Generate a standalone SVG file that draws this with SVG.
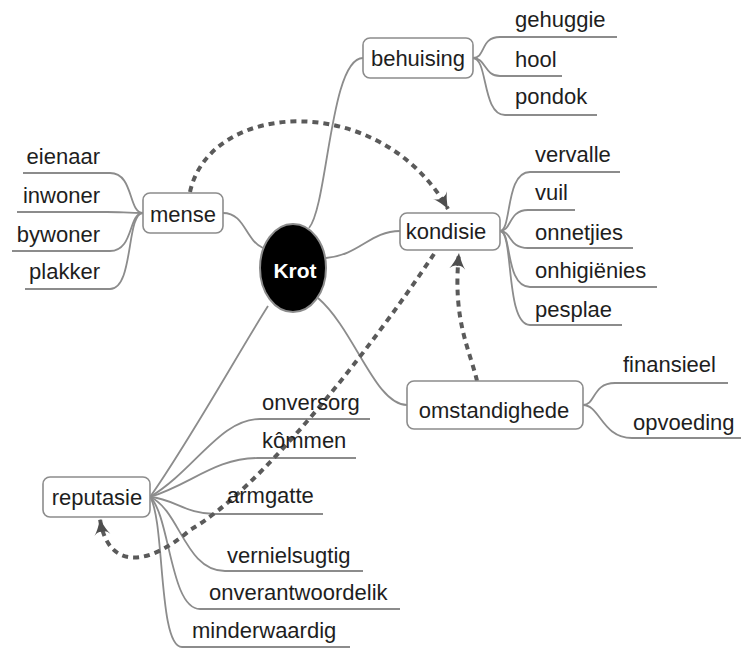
<svg xmlns="http://www.w3.org/2000/svg" width="741" height="648" viewBox="0 0 741 648">
  <style>
    .box { fill: #ffffff; stroke: #8c8c8c; stroke-width: 1.6; }
    .lbl { font-family: "Liberation Sans", Arial, sans-serif; font-size: 22px; fill: #1e1e1e; }
    .mid { text-anchor: middle; }
    .end { text-anchor: end; }
    .branch { fill: none; stroke: #8c8c8c; stroke-width: 1.8; }
    .rel { fill: none; stroke: #5a5a5a; stroke-width: 4; stroke-dasharray: 6 5; }
  </style>
  <defs>
    <marker id="relhead" markerUnits="userSpaceOnUse" viewBox="0 0 18 18" refX="17" refY="9" markerWidth="18" markerHeight="18" orient="auto">
      <path d="M1,1 Q6,5 17,9 Q6,13 1,17 Q5,13 4,9 Q5,5 1,1 Z" fill="#4e4e4e"/>
    </marker>
  </defs>

  <!-- branch lines: centre to main topics, topics to leaves -->
  <g id="connectors">
    <path class="branch" d="M309,228 C328,205 330,58 363,58"/>
    <path class="branch" d="M223,213 C245,213 245,240 263,248"/>
    <path class="branch" d="M326,258 C360,255 370,231 400,231"/>
    <path class="branch" d="M318,298 C355,330 375,405 407,405"/>
    <path class="branch" d="M268,306 C240,350 190,440 150,497"/>

    <!-- behuising leaves -->
    <path class="branch" d="M473,58 C486,58 480,37 500,37 L617,37"/>
    <path class="branch" d="M473,58 C486,58 484,76 500,76 L562,76"/>
    <path class="branch" d="M473,58 C488,58 482,115 505,115 L597,115"/>

    <!-- mense leaves -->
    <path class="branch" d="M143,213 C128,213 134,173 110,173 L23,173"/>
    <path class="branch" d="M143,213 C128,213 120,212 107,212 L17,212"/>
    <path class="branch" d="M143,213 C128,213 134,251 110,251 L12,251"/>
    <path class="branch" d="M143,213 C126,213 134,289 110,289 L25,289"/>

    <!-- kondisie leaves -->
    <path class="branch" d="M500,231 C512,231 505,172 530,172 L620,172"/>
    <path class="branch" d="M500,231 C512,231 508,210 528,210 L575,210"/>
    <path class="branch" d="M500,231 C512,231 508,248 528,248 L633,248"/>
    <path class="branch" d="M500,231 C512,231 505,287 530,287 L657,287"/>
    <path class="branch" d="M500,231 C514,231 505,325 530,325 L622,325"/>

    <!-- omstandighede leaves -->
    <path class="branch" d="M583,405 C596,405 592,383 615,383 L728,383"/>
    <path class="branch" d="M583,405 C600,405 602,438 632,438 L741,438"/>

    <!-- reputasie leaves -->
    <path class="branch" d="M150,497 C195,470 220,419 260,419 L370,419"/>
    <path class="branch" d="M150,497 C190,485 215,458 258,458 L356,458"/>
    <path class="branch" d="M150,497 C175,499 185,514 215,514 L323,514"/>
    <path class="branch" d="M150,497 C180,510 185,571 225,571 L363,571"/>
    <path class="branch" d="M150,497 C170,515 170,609 200,609 L400,609"/>
    <path class="branch" d="M150,497 C165,520 158,647 182,647 L350,647"/>

    <!-- dashed relationship arrows -->
    <path class="rel" d="M190,192 C210,100 380,90 448,209" marker-end="url(#relhead)"/>
    <path class="rel" d="M477,381 C470,350 452,320 459,253" marker-end="url(#relhead)"/>
    <path class="rel" d="M434,254 C370,350 260,490 190,530 C150,565 108,572 100,519" marker-end="url(#relhead)"/>
  </g>

  <g id="krot">
    <ellipse cx="293" cy="268" rx="33" ry="44" fill="#000000" stroke="#8c8c8c" stroke-width="2"/>
    <text x="295" y="278" class="lbl mid" style="font-weight:bold; font-size:21px; fill:#ffffff">Krot</text>
  </g>

  <g id="behuising">
    <rect class="box" x="363" y="38" width="110" height="40" rx="7"/>
    <text x="418" y="66" class="lbl mid">behuising</text>
  </g>
  <g id="gehuggie"><text x="515" y="27" class="lbl">gehuggie</text></g>
  <g id="hool"><text x="515" y="67" class="lbl">hool</text></g>
  <g id="pondok"><text x="515" y="104" class="lbl">pondok</text></g>

  <g id="mense">
    <rect class="box" x="143" y="193" width="80" height="40" rx="7"/>
    <text x="183" y="222" class="lbl mid">mense</text>
  </g>
  <g id="eienaar"><text x="100" y="164" class="lbl end">eienaar</text></g>
  <g id="inwoner"><text x="100" y="203" class="lbl end">inwoner</text></g>
  <g id="bywoner"><text x="100" y="242" class="lbl end">bywoner</text></g>
  <g id="plakker"><text x="100" y="279" class="lbl end">plakker</text></g>

  <g id="kondisie">
    <rect class="box" x="400" y="213" width="100" height="37" rx="7"/>
    <text x="446" y="239" class="lbl mid">kondisie</text>
  </g>
  <g id="vervalle"><text x="535" y="162" class="lbl">vervalle</text></g>
  <g id="vuil"><text x="535" y="200" class="lbl">vuil</text></g>
  <g id="onnetjies"><text x="535" y="240" class="lbl">onnetjies</text></g>
  <g id="onhigienies"><text x="535" y="278" class="lbl">onhigiënies</text></g>
  <g id="pesplae"><text x="535" y="317" class="lbl">pesplae</text></g>

  <g id="omstandighede">
    <rect class="box" x="407" y="381" width="176" height="48" rx="7"/>
    <text x="494" y="418" class="lbl mid">omstandighede</text>
  </g>
  <g id="finansieel"><text x="623" y="372" class="lbl">finansieel</text></g>
  <g id="opvoeding"><text x="633" y="430" class="lbl">opvoeding</text></g>

  <g id="reputasie">
    <rect class="box" x="43" y="477" width="107" height="40" rx="7"/>
    <text x="97" y="505" class="lbl mid">reputasie</text>
  </g>
  <g id="onversorg"><text x="262" y="410" class="lbl">onversorg</text></g>
  <g id="kommen"><text x="262" y="448" class="lbl">kômmen</text></g>
  <g id="armgatte"><text x="227" y="503" class="lbl">armgatte</text></g>
  <g id="vernielsugtig"><text x="227" y="563" class="lbl">vernielsugtig</text></g>
  <g id="onverantwoordelik"><text x="209" y="600" class="lbl">onverantwoordelik</text></g>
  <g id="minderwaardig"><text x="192" y="638" class="lbl">minderwaardig</text></g>
</svg>
